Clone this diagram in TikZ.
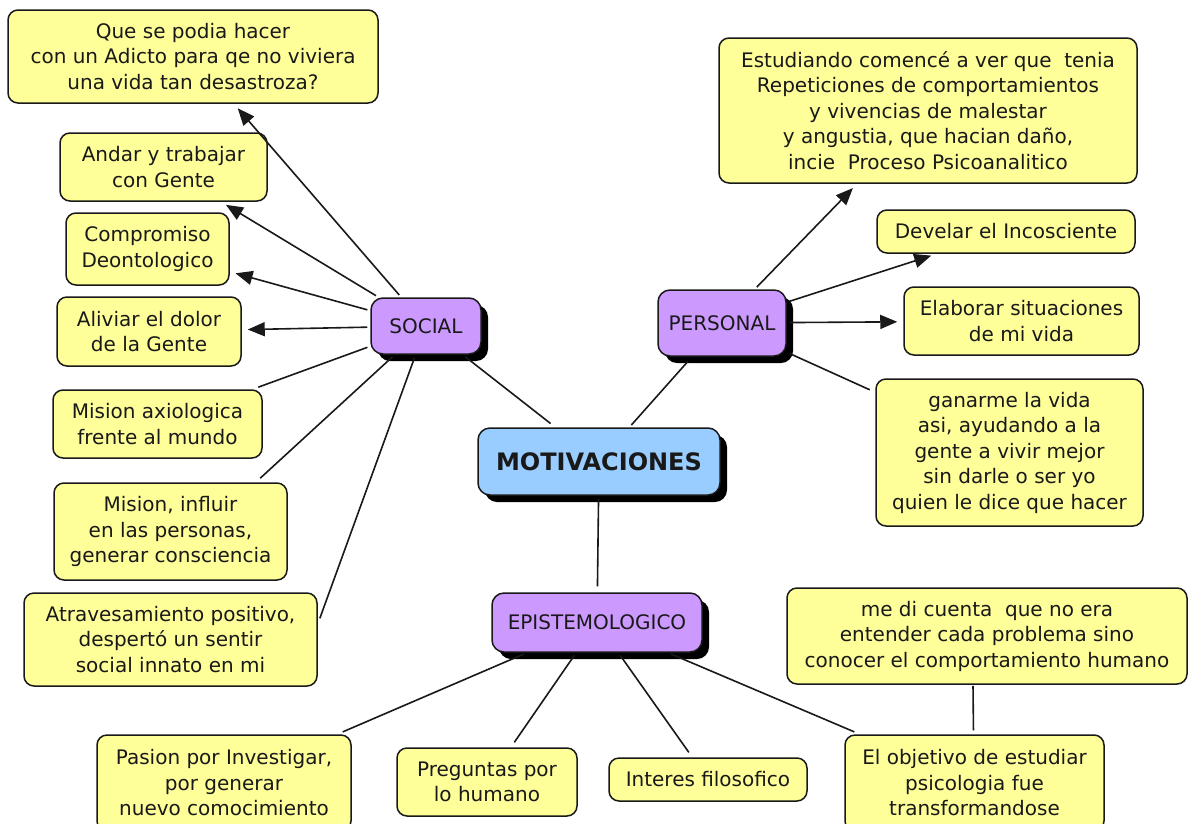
\documentclass[tikz,border=0pt]{standalone}
\usepackage{fontspec}
\setmainfont{DejaVu Sans}
\usetikzlibrary{arrows.meta,shadows,calc}
\definecolor{ybox}{RGB}{255,255,153}
\definecolor{pbox}{RGB}{204,153,255}
\definecolor{bbox}{RGB}{153,204,255}
\definecolor{ink}{RGB}{25,25,25}
\begin{document}
\begin{tikzpicture}[x=1pt,y=-1pt,
  yb/.style={draw=ink, line width=1.5pt, fill=ybox, rounded corners=10pt, align=center,
    font=\fontsize{20}{25.5}\selectfont, inner sep=0pt, text=ink},
  pb/.style={draw=ink, line width=1.5pt, fill=pbox, rounded corners=12pt, align=center,
    font=\fontsize{20}{25}\selectfont, inner sep=0pt, text=ink,
    drop shadow={shadow xshift=7pt, shadow yshift=-7pt, opacity=1, fill=black}},
  bb/.style={pb, fill=bbox, font=\bfseries\fontsize{24}{28}\selectfont},
  conn/.style={line width=1.6pt, draw=ink, shorten <=3pt, shorten >=6pt},
  arr/.style={conn, -{Triangle[length=17pt,width=14pt]}}
]
\useasboundingbox (0,0) rectangle (1195,823);
\fill[white] (0,0) rectangle (1195,823);
\begin{scope}
\clip (0,0) rectangle (1195,823);
% SOCIAL side
\node[yb, minimum width=370pt, minimum height=93pt] (que) at (193,56.5) {Que se podia hacer\\con un Adicto para qe no viviera\\una vida tan desastroza?};
\node[yb, minimum width=207pt, minimum height=68pt] (andar) at (163.5,167) {Andar y trabajar\\con Gente};
\node[yb, minimum width=163pt, minimum height=72pt] (comp) at (147.5,249) {Compromiso\\Deontologico};
\node[yb, minimum width=184pt, minimum height=69pt] (aliv) at (149,331.5) {Aliviar el dolor\\de la Gente};
\node[yb, minimum width=209pt, minimum height=68pt] (mis1) at (157.5,424) {Mision axiologica\\frente al mundo};
\node[yb, minimum width=233pt, minimum height=97pt] (mis2) at (170.5,531.5) {Mision, influir\\en las personas,\\generar consciencia};
\node[yb, minimum width=293pt, minimum height=93pt] (atr) at (170.5,639.5) {Atravesamiento positivo,\\despertó un sentir\\social innato en mi};
% PERSONAL side
\node[yb, minimum width=418pt, minimum height=145pt] (est) at (928,110.5) {Estudiando comencé a ver que\ \ tenia\\Repeticiones de comportamientos\\y vivencias de malestar\\y angustia, que hacian daño,\\incie\ \ Proceso Psicoanalitico};
\node[yb, minimum width=258pt, minimum height=43pt] (dev) at (1006,231.5) {Develar el Incosciente};
\node[yb, minimum width=235pt, minimum height=68pt] (elab) at (1021.5,321) {Elaborar situaciones\\de mi vida};
\node[yb, minimum width=267pt, minimum height=147pt] (gan) at (1009.5,452.5) {ganarme la vida\\asi, ayudando a la\\gente a vivir mejor\\sin darle o ser yo\\quien le dice que hacer};
% EPISTEMOLOGICO side
\node[yb, minimum width=400pt, minimum height=96pt] (medi) at (987,636) {me di cuenta\ \ que no era\\entender cada problema sino\\conocer el comportamiento humano};
\node[yb, minimum width=259pt, minimum height=96pt] (obj) at (974.5,783) {El objetivo de estudiar\\psicologia fue\\transformandose};
\node[yb, minimum width=254pt, minimum height=96pt] (pas) at (224,783) {Pasion por Investigar,\\por generar\\nuevo comocimiento};
\node[yb, minimum width=180pt, minimum height=68pt] (preg) at (487,782) {Preguntas por\\lo humano};
\node[yb, minimum width=198pt, minimum height=43pt] (inte) at (708,779.5) {Interes filosofico};
% main concepts
\node[pb, minimum width=110pt, minimum height=56pt] (soc) at (426,326) {SOCIAL};
\node[pb, minimum width=128pt, minimum height=66pt] (per) at (722,323) {PERSONAL};
\node[pb, minimum width=210pt, minimum height=59pt] (epi) at (597,622.5) {EPISTEMOLOGICO};
\node[bb, minimum width=242pt, minimum height=67pt] (mot) at (599,461.5) {MOTIVACIONES};
% connectors
\draw[arr] (soc) -- (que);
\draw[arr] (soc) -- (andar);
\draw[arr] (soc) -- (comp);
\draw[arr] (soc) -- (aliv);
\draw[conn] (soc) -- (mis1);
\draw[conn] (soc) -- (mis2.30);
\draw[conn] (soc) -- (atr.6);
\draw[conn] (soc) -- (mot);
\draw[conn] (mot) -- (per);
\draw[conn] (mot) -- (epi);
\draw[arr] (per) -- (est);
\draw[arr] (per) -- (dev);
\draw[arr] (per) -- (elab);
\draw[conn] (per) -- (gan);
\draw[conn] (epi) -- (pas);
\draw[conn] (epi) -- (preg);
\draw[conn] (epi) -- (inte);
\draw[conn] (epi) -- (obj);
\draw[conn, shorten <=1pt, shorten >=4pt] ($(medi.south)+(-14,0)$) -- ($(obj.north)+(-1,0)$);
\end{scope}
\end{tikzpicture}
\end{document}
